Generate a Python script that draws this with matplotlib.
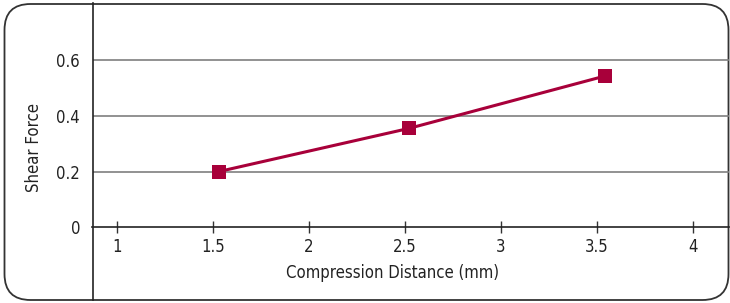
import matplotlib.pyplot as plt
from matplotlib.patches import FancyBboxPatch

compression = [1.53, 2.52, 3.54]
shear_force = [0.20, 0.355, 0.543]
x_ticks = [1, 1.5, 2, 2.5, 3, 3.5, 4]
x_tick_labels = ['1', '1.5', '2', '2.5', '3', '3.5', '4']
y_ticks = [0, 0.2, 0.4, 0.6]
y_tick_labels = ['0', '0.2', '0.4', '0.6']

W, H = 730, 303
plt.rcParams['font.family'] = ['DejaVu Sans']
plt.rcParams['font.stretch'] = 'condensed'

fig = plt.figure(figsize=(W / 100, H / 100), dpi=100)

# rounded outer frame, on a background axes under the plot
bg = fig.add_axes([0, 0, 1, 1], zorder=-1)
bg.set_xlim(0, W)
bg.set_ylim(H, 0)
bg.axis('off')
box = FancyBboxPatch((4.5, 4), 724, 296,
                     boxstyle='round,pad=0,rounding_size=26',
                     facecolor='white', edgecolor='#333333', linewidth=1.3)
bg.add_patch(box)

ax = fig.add_axes([92.5 / W, 3 / H, (728.5 - 92.5) / W, (300 - 3) / H])
ax.set_facecolor('none')

ax.plot(compression, shear_force, color='#A8003A', linewidth=2.2,
        marker='s', markersize=10, markeredgewidth=0, zorder=3)

ax.set_xlim(0.871, 4.186)
ax.set_ylim(-0.262, 0.806)

for y in y_ticks[1:]:
    ax.axhline(y, color='#7f7f7f', linewidth=1.2, zorder=1)

for s in ['top', 'right']:
    ax.spines[s].set_visible(False)
ax.spines['left'].set_color('#222222')
ax.spines['left'].set_linewidth(1.2)
ax.spines['bottom'].set_position(('data', 0))
ax.spines['bottom'].set_color('#222222')
ax.spines['bottom'].set_linewidth(1.2)

ax.set_xticks(x_ticks)
ax.set_xticklabels(x_tick_labels, fontsize=12, color='#222222')
ax.tick_params(axis='x', direction='inout', length=9, width=1, color='#333333', pad=3)
ax.set_yticks(y_ticks)
ax.set_yticklabels(y_tick_labels, fontsize=12, color='#222222')
ax.tick_params(axis='y', length=0, pad=9)

fig.text(393 / W, 1 - 273 / H, 'Compression Distance (mm)', fontsize=12,
         color='#222222', ha='center', va='center')
fig.text(34 / W, 1 - 148 / H, 'Shear Force', fontsize=12, color='#222222',
         ha='center', va='center', rotation=90)

fig.savefig('out.png', dpi=100)
